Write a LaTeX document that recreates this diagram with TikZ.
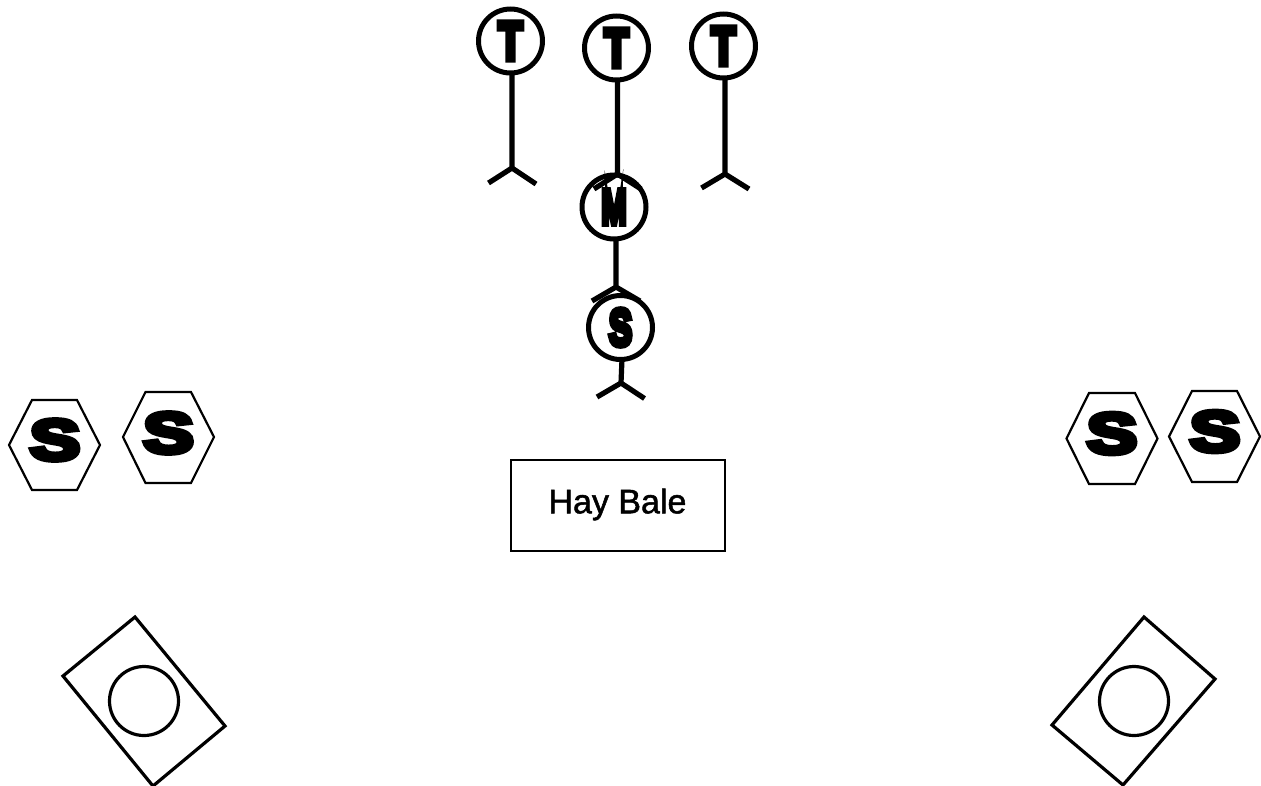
\documentclass[tikz,border=0pt]{standalone}
\usepackage{fontspec}
\setmainfont{Liberation Sans}
\newfontfamily\heavy[FakeBold=12]{Liberation Sans Bold}
\newfontfamily\heavyhex[FakeBold=9]{Liberation Sans Bold}
\newfontfamily\haylabel[FakeBold=1.5]{Liberation Sans}
\newcommand{\glyph}[3]{\resizebox{#1pt}{#2pt}{\heavy #3}}
\newcommand{\hexglyph}[3]{\resizebox{#1pt}{#2pt}{\heavyhex #3}}
\tikzset{
  player/.style={draw=black,line width=5pt,circle,minimum size=64pt,inner sep=0pt},
  limb/.style={draw=black,line width=5.2pt,line cap=butt,line join=miter},
  hexa/.style={draw=black,line width=2.2pt,line join=miter},
  hexletter/.style={inner sep=0pt},
  bale/.style={draw=black,line width=2pt,minimum width=214pt,minimum height=91pt,inner sep=0pt},
  post/.style={draw=black,line width=3.2pt,line join=miter},
  ring/.style={draw=black,line width=3.2pt,circle,minimum size=69pt,inner sep=0pt}
}
\begin{document}
\begin{tikzpicture}[x=1pt,y=-1pt]
\useasboundingbox (0,0) rectangle (1261,785);
% players
\node[player] (t1) at (510.5,41) {\glyph{24}{37}{T}};
\node[player] (t2) at (616.5,48) {\glyph{24}{37}{T}};
\node[player] (t3) at (723.5,46) {\glyph{24}{37}{T}};
\node[player] (m) at (614,207) {\glyph{25}{34}{M}};
\node[player] (s) at (620.5,327.5) {\glyph{23}{36}{S}};
% feet
\coordinate (t1top) at (512,73);
\coordinate (t1hip) at (512,168);
\coordinate (t1l) at (488.5,183);
\coordinate (t1r) at (536,184);
\coordinate (t2top) at (617.5,80);
\coordinate (t2hip) at (617.5,174);
\coordinate (t2l) at (594,189);
\coordinate (t2r) at (641,189);
\coordinate (t3top) at (725,78);
\coordinate (t3hip) at (725,174);
\coordinate (t3l) at (701.5,188);
\coordinate (t3r) at (749,189);
\coordinate (mtop) at (616,238);
\coordinate (mhip) at (616,287);
\coordinate (ml) at (592,301);
\coordinate (mr) at (640,301);
\coordinate (stop) at (622,359);
\coordinate (ship) at (621,383);
\coordinate (sl) at (597,397);
\coordinate (sr) at (644.5,398.5);
\draw[limb] (t1top) -- (t1hip) (t1l) -- (t1hip) -- (t1r);
\draw[limb] (t2top) -- (t2hip) (t2l) -- (t2hip) -- (t2r);
\draw[limb] (t3top) -- (t3hip) (t3l) -- (t3hip) -- (t3r);
\draw[limb] (mtop) -- (mhip) (ml) -- (mhip) -- (mr);
\draw[limb] (stop) -- (ship) (sl) -- (ship) -- (sr);
% hexagons
\draw[hexa] (9,445) -- (32,400) -- (77,400) -- (100,445) -- (77,490) -- (32,490) -- cycle;
\node[hexletter] (h1) at (55,440) {\hexglyph{50}{40}{S}};
\draw[hexa] (123,437) -- (145.5,392) -- (191,392) -- (214,437) -- (191,483) -- (145.5,483) -- cycle;
\node[hexletter] (h2) at (168.5,433) {\hexglyph{50}{40}{S}};
\draw[hexa] (1066.5,438.5) -- (1089,393) -- (1135,393) -- (1157.5,438.5) -- (1135,484) -- (1089,484) -- cycle;
\node[hexletter] (h3) at (1112,433.5) {\hexglyph{50}{40}{S}};
\draw[hexa] (1169,436.5) -- (1192,391) -- (1237,391) -- (1260,436.5) -- (1237,482) -- (1192,482) -- cycle;
\node[hexletter] (h4) at (1215,431.5) {\hexglyph{50}{40}{S}};
% hay bale
\node[bale] (hay) at (618,505.5) {};
\node[inner sep=0pt] (haytext) at (617.5,504.5) {\haylabel\fontsize{34}{34}\selectfont Hay Bale};
% corner stations
\draw[post] (135,617) -- (225,726) -- (153,786) -- (63,676) -- cycle;
\node[ring] (c1) at (144,701) {};
\draw[post] (1144,617) -- (1215,679) -- (1123,785) -- (1052,725) -- cycle;
\node[ring] (c2) at (1134,701) {};
\end{tikzpicture}
\end{document}
